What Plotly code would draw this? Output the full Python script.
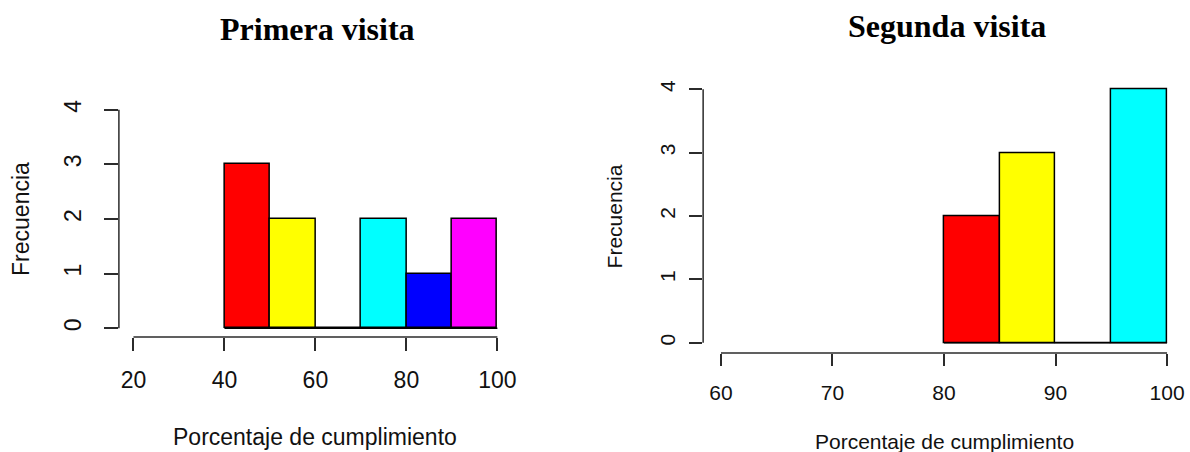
import plotly.graph_objects as go

# ---------------- data ----------------
v1_edges = [40, 50, 60, 70, 80, 90, 100]
v1_counts = [3, 2, 0, 2, 1, 2]
v2_edges = [80, 85, 90, 95, 100]
v2_counts = [2, 3, 0, 4]
palette = ["#FF0000", "#FFFF00", "#00FF00", "#00FFFF", "#0000FF", "#FF00FF"]  # rainbow(6)
v1_xticks = [20, 40, 60, 80, 100]
v2_xticks = [60, 70, 80, 90, 100]
y_ticks = [0, 1, 2, 3, 4]
titles = ["Primera visita", "Segunda visita"]
xlabel = "Porcentaje de cumplimiento"
ylabel = "Frecuencia"

W, H = 1190, 452
AX = "#2b2b2b"
SANS = "Liberation Sans, Arial, sans-serif"
SERIF = "Liberation Serif, Times New Roman, serif"

# panel layout in pixels (plot region)
panels = [
    dict(edges=v1_edges, counts=v1_counts, xticks=v1_xticks, title=titles[0],
         px=(119.4, 514.1), py=(100.2, 336.8), font=23,
         xlen=13, ylen=14, xstand=9, ystand=14,
         title_x=319, title_y=28, xlab_y=437, ylab_x=21),
    dict(edges=v2_edges, counts=v2_counts, xticks=v2_xticks, title=titles[1],
         px=(706.1, 1189.9), py=(78.3, 352.7), font=21,
         xlen=12, ylen=13, xstand=9, ystand=6,
         title_x=951, title_y=25, xlab_y=441, ylab_x=617),
]

fig = go.Figure()
shapes = []
annotations = []

for i, p in enumerate(panels, start=1):
    xa = "x" if i == 1 else f"x{i}"
    ya = "y" if i == 1 else f"y{i}"
    edges, counts = p["edges"], p["counts"]
    centers = [(a + b) / 2 for a, b in zip(edges[:-1], edges[1:])]
    widths = [b - a for a, b in zip(edges[:-1], edges[1:])]
    colors = [palette[k % len(palette)] for k in range(len(counts))]

    # baseline (shows where bins are empty)
    fig.add_trace(go.Scatter(x=[edges[0], edges[-1]], y=[0, 0], mode="lines",
                             line=dict(color="black", width=1.5),
                             xaxis=xa, yaxis=ya, showlegend=False,
                             cliponaxis=False, hoverinfo="skip"))
    fig.add_trace(go.Bar(x=centers, y=counts, width=widths,
                         marker=dict(color=colors, line=dict(color="black", width=1.5)),
                         xaxis=xa, yaxis=ya, showlegend=False))

    xlo, xhi = p["xticks"][0], p["xticks"][-1]
    xpad = 0.04 * (xhi - xlo)
    ylo, yhi = y_ticks[0], y_ticks[-1]
    ypad = 0.04 * (yhi - ylo)

    xdom = [p["px"][0] / W, p["px"][1] / W]
    ydom = [1 - p["py"][1] / H, 1 - p["py"][0] / H]

    xaxis = dict(domain=xdom, range=[xlo - xpad, xhi + xpad], anchor=ya,
                 tickmode="array", tickvals=p["xticks"],
                 ticktext=[str(t) for t in p["xticks"]],
                 ticks="outside", ticklen=p["xlen"], tickwidth=1.5, tickcolor=AX,
                 ticklabelstandoff=p["xstand"],
                 showline=False, showgrid=False, zeroline=False,
                 tickfont=dict(family=SANS, size=p["font"], color="#111"))
    yaxis = dict(domain=ydom, range=[ylo - ypad, yhi + ypad], anchor=xa,
                 tickmode="array", tickvals=y_ticks,
                 ticktext=[str(t) for t in y_ticks], tickangle=-90,
                 ticks="outside", ticklen=p["ylen"], tickwidth=1.5, tickcolor=AX,
                 ticklabelstandoff=p["ystand"],
                 showline=False, showgrid=False, zeroline=False,
                 tickfont=dict(family=SANS, size=p["font"], color="#111"))
    fig.update_layout(**{("xaxis" if i == 1 else f"xaxis{i}"): xaxis,
                         ("yaxis" if i == 1 else f"yaxis{i}"): yaxis})

    # R-style detached axis lines spanning the tick range
    shapes.append(dict(type="line", xref=xa, yref="paper",
                       x0=xlo, x1=xhi, y0=ydom[0], y1=ydom[0],
                       line=dict(color=AX, width=1.5)))
    shapes.append(dict(type="line", xref="paper", yref=ya,
                       x0=xdom[0], x1=xdom[0], y0=ylo, y1=yhi,
                       line=dict(color=AX, width=1.5)))

    xc = (xdom[0] + xdom[1]) / 2
    annotations.append(dict(text="<b>" + p["title"] + "</b>", xref="paper", yref="paper",
                            x=p["title_x"] / W, y=1 - p["title_y"] / H,
                            xanchor="center", yanchor="middle",
                            showarrow=False, font=dict(family=SERIF, size=32, color="black")))
    annotations.append(dict(text=xlabel, xref="paper", yref="paper",
                            x=xc, y=1 - p["xlab_y"] / H, xanchor="center", yanchor="middle",
                            showarrow=False, font=dict(family=SANS, size=p["font"], color="#111")))
    annotations.append(dict(text=ylabel, xref="paper", yref="paper", textangle=-90,
                            x=p["ylab_x"] / W, y=(ydom[0] + ydom[1]) / 2,
                            xanchor="center", yanchor="middle",
                            showarrow=False, font=dict(family=SANS, size=p["font"], color="#111")))

fig.update_layout(width=W, height=H, margin=dict(l=0, r=0, t=0, b=0),
                  paper_bgcolor="white", plot_bgcolor="white",
                  bargap=0, showlegend=False, shapes=shapes, annotations=annotations)

fig.write_html("out.html", config={"displayModeBar": False})
